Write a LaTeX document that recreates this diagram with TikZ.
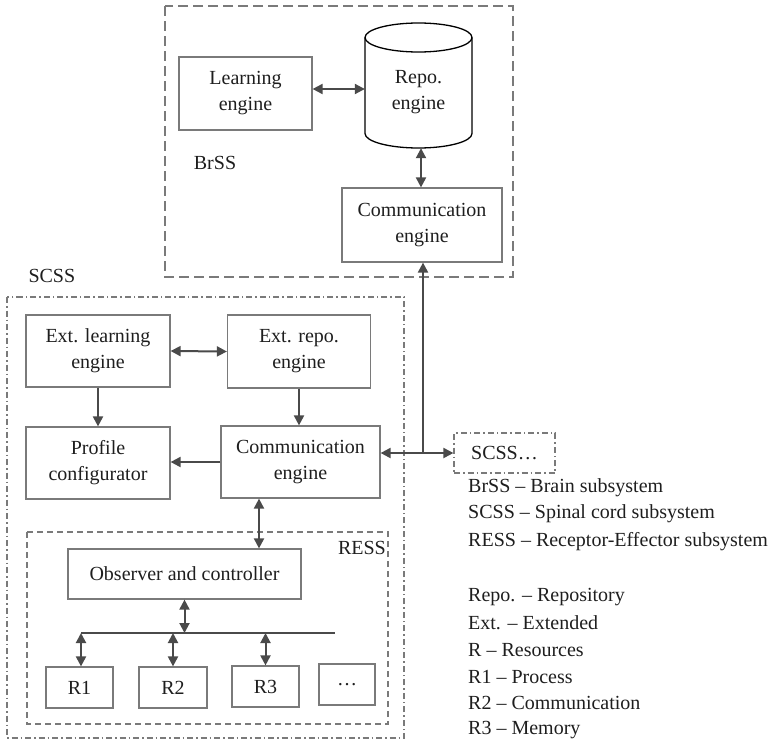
\documentclass[tikz,border=0pt]{standalone}
\usepackage{fontspec}
\setmainfont{Liberation Serif}
\usetikzlibrary{arrows.meta}
\definecolor{boxgray}{HTML}{7A7A7A}
\definecolor{arrgray}{HTML}{4A4A4A}
\definecolor{txt}{HTML}{1E1E1E}
\begin{document}
\begin{tikzpicture}[x=1pt,y=-1pt,
  font=\fontsize{20}{26}\selectfont, text=txt,
  box/.style={draw=boxgray, line width=1.2pt, align=center, inner sep=0pt},
  arr/.style={draw=arrgray, line width=2pt, -{Triangle[length=10pt,width=10pt]}},
  biarr/.style={draw=arrgray, line width=2pt, {Triangle[length=10pt,width=10pt]}-{Triangle[length=10pt,width=10pt]}},
  brframe/.style={draw=boxgray, line width=1.2pt, dash pattern=on 10pt off 5pt},
  scframe/.style={draw=boxgray, line width=1.2pt, dash pattern=on 6pt off 3pt on 1.5pt off 3pt},
  reframe/.style={draw=boxgray, line width=1.2pt, dash pattern=on 6pt off 4pt},
  legend/.style={anchor=west, inner sep=0pt}]
\useasboundingbox (0,0) rectangle (770,744);

% ---- Brain subsystem ----
\draw[brframe] (165,6) rectangle (513,277);
\node[box, minimum width=133, minimum height=73] (learn) at (245.5,93.5) {Learning\\engine};
% repository cylinder: body, then the full top ellipse
\draw[draw=black, line width=1.3pt, fill=white]
  (365,37.5) -- (365,133.5) arc[start angle=180, end angle=360, x radius=53.5, y radius=-14.5]
  -- (472,37.5);
\draw[draw=black, line width=1.3pt, fill=white] (418.5,37.5) ellipse[x radius=53.5, y radius=14.5];
\node[inner sep=0pt, minimum width=107, minimum height=125] (repo) at (418.5,85.5) {};
\node[align=center] (repotxt) at (418.5,92) {Repo.\\engine};
\node[box, minimum width=160, minimum height=74] (bcomm) at (422,225) {Communication\\engine};
\node[anchor=center] (brss) at (215,163) {BrSS};

\coordinate (lrlink) at ([yshift=4.5pt]learn.east);
\coordinate (rclink) at (421,0);
\draw[biarr] (lrlink) -- (repo.west |- lrlink);
\draw[biarr] (repo.south -| rclink) -- (bcomm.north -| rclink);

% ---- Spinal cord subsystem ----
\node[anchor=west] (scsslbl) at (25,276) {SCSS};
\draw[scframe] (7,297) rectangle (404,738);
\node[box, minimum width=144, minimum height=72] (extl) at (98,351) {Ext. learning\\engine};
\node[box, minimum width=143, minimum height=73] (extr) at (299,351.5) {Ext. repo.\\engine};
\node[box, minimum width=144, minimum height=72] (prof) at (98,463) {Profile\\configurator};
\node[box, minimum width=159, minimum height=72] (scomm) at (300.5,462) {Communication\\engine};

\draw[biarr] (extl.east) -- (extr.west);
\draw[arr] (extl.south) -- (extl.south |- prof.north);
\draw[arr] (extr.south) -- (extr.south |- scomm.north);
\draw[arr] (scomm.west) -- (prof.east |- scomm.west);

% link to the brain and to further spinal cord subsystems
\node[box, scframe, minimum width=101, minimum height=40] (scss2) at (504.5,453) {SCSS\ldots};
\coordinate (junc) at (423,453);
\draw[arr] (junc) -- (junc |- bcomm.south);
\draw[arr] (junc) -- (scomm.east |- junc);
\draw[arr] (junc) -- (scss2.west);

% ---- Receptor-Effector subsystem ----
\draw[reframe] (27,532) rectangle (388,724);
\node[anchor=east, inner sep=0pt] (resslbl) at (386,548) {RESS};
\node[box, minimum width=233, minimum height=50] (obs) at (184.5,574) {Observer and controller};
\coordinate (cobs) at (259,0);
\draw[biarr] (scomm.south -| cobs) -- (obs.north -| cobs);

\coordinate (busL) at (81,633);
\coordinate (busR) at (335,633);
\draw[draw=arrgray, line width=1.2pt] (busL) -- (busR);
\draw[biarr] (obs.south) -- (obs.south |- busL);

\node[box, minimum width=67, minimum height=41] (r1) at (79.5,687.5) {R1};
\node[box, minimum width=68, minimum height=41] (r2) at (173,687.5) {R2};
\node[box, minimum width=67, minimum height=41] (r3) at (265.5,686.5) {R3};
\node[box, minimum width=56, minimum height=41] (rmore) at (347,684.5) {\ldots};
\draw[biarr] (busL) -- (busL |- r1.north);
\draw[biarr] (r2.north |- busL) -- (r2.north);
\draw[biarr] (r3.north |- busL) -- (r3.north);

% ---- Legend ----
\node[legend] (lg1) at (468,488) {BrSS – Brain subsystem};
\node[legend] (lg2) at (468,514) {SCSS – Spinal cord subsystem};
\node[legend] (lg3) at (468,542) {RESS – Receptor-Effector subsystem};
\node[legend] (lg4) at (468,597) {Repo. – Repository};
\node[legend] (lg5) at (468,623) {Ext. – Extended};
\node[legend] (lg6) at (468,650) {R – Resources};
\node[legend] (lg7) at (468,677) {R1 – Process};
\node[legend] (lg8) at (468,703) {R2 – Communication};
\node[legend] (lg9) at (468,730) {R3 – Memory};
\end{tikzpicture}
\end{document}
